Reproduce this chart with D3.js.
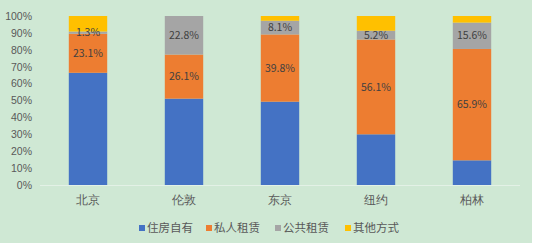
<!DOCTYPE html>
<html>
<head>
<meta charset="utf-8">
<script src="https://cdn.jsdelivr.net/npm/d3@7"></script>
<style>
  body { margin: 0; background: #fff; }
  svg { display: block; font-family: "Noto Sans CJK SC", "Noto Sans", sans-serif; }
</style>
</head>
<body>
<svg id="chart" width="534" height="246"></svg>
<script>
// 城市住房结构
const cities = ["北京", "伦敦", "东京", "纽约", "柏林"];
const seriesNames = ["住房自有", "私人租赁", "公共租赁", "其他方式"];
const owned   = [66.4, 51.1, 49.3, 30.0, 14.6];
const privateRent = [23.1, 26.1, 39.8, 56.1, 65.9];
const publicRent  = [1.3, 22.8, 8.1, 5.2, 15.6];
const other   = [9.2, 0.0, 2.8, 8.7, 3.9];
const yTicks = [0, 10, 20, 30, 40, 50, 60, 70, 80, 90, 100];
const colors = ["#4472C4", "#ED7D31", "#A5A5A5", "#FFC000"];

const seriesValues = [owned, privateRent, publicRent, other];
const rows = cities.map((c, i) => {
    let r = {city: c};
    seriesNames.forEach((s, k) => r[s] = seriesValues[k][i]);
    return r;
});

const svg = d3.select("#chart");
svg.append("rect").attr("x", 0).attr("y", 0).attr("width", 532).attr("height", 243).attr("fill", "#cfe8d4");

const x = d3.scaleBand().domain(cities).range([40, 520]).paddingInner(0.6).paddingOuter(0.3);
const y = d3.scaleLinear().domain([0, 100]).range([185, 16]);

const stack = d3.stack().keys(seriesNames);
const layers = stack(rows);

// baseline
svg.append("line")
    .attr("x1", 40).attr("x2", 520)
    .attr("y1", y(0) + 0.5).attr("y2", y(0) + 0.5)
    .attr("stroke", "#e3f1e6").attr("stroke-width", 1);

// y axis labels
const yAxis = d3.axisLeft(y).tickValues(yTicks).tickFormat(d => d + "%").tickSize(0).tickPadding(0);
const gy = svg.append("g").attr("transform", "translate(32,0)").call(yAxis);
gy.select(".domain").remove();
gy.selectAll("text").attr("fill", "#595959").attr("font-size", 10.5);

// bars
const g = svg.append("g");
layers.forEach((layer, k) => {
    g.append("g").attr("fill", colors[k])
        .selectAll("rect")
        .data(layer)
        .join("rect")
        .attr("x", d => x(d.data.city))
        .attr("y", d => y(d[1]))
        .attr("width", x.bandwidth())
        .attr("height", d => y(d[0]) - y(d[1]));
});

// data labels for private and public rent
[1, 2].forEach(k => {
    svg.append("g").selectAll("text")
        .data(layers[k])
        .join("text")
        .attr("x", d => x(d.data.city) + x.bandwidth() / 2)
        .attr("y", d => y((d[0] + d[1]) / 2))
        .attr("dy", "0.35em")
        .attr("text-anchor", "middle")
        .attr("font-size", 10.5)
        .attr("fill", "#404040")
        .text(d => (d[1] - d[0]).toFixed(1) + "%");
});

// x axis
const xAxis = d3.axisBottom(x).tickSize(0).tickPadding(0);
const gx = svg.append("g").attr("transform", "translate(0,200)").call(xAxis);
gx.select(".domain").remove();
gx.selectAll("text").attr("fill", "#595959").attr("font-size", 11.5).attr("dy", "0.35em");

// legend
const legendX = [139, 206, 275, 345];
const legend = svg.append("g").selectAll("g")
    .data(seriesNames)
    .join("g")
    .attr("transform", (d, i) => `translate(${legendX[i]},228)`);
legend.append("rect").attr("x", 0).attr("y", -3).attr("width", 6).attr("height", 6)
    .attr("fill", (d, i) => colors[i]);
legend.append("text").attr("x", 8).attr("dy", "0.35em")
    .attr("font-size", 11.5).attr("fill", "#595959")
    .text(d => d);
</script>
</body>
</html>
